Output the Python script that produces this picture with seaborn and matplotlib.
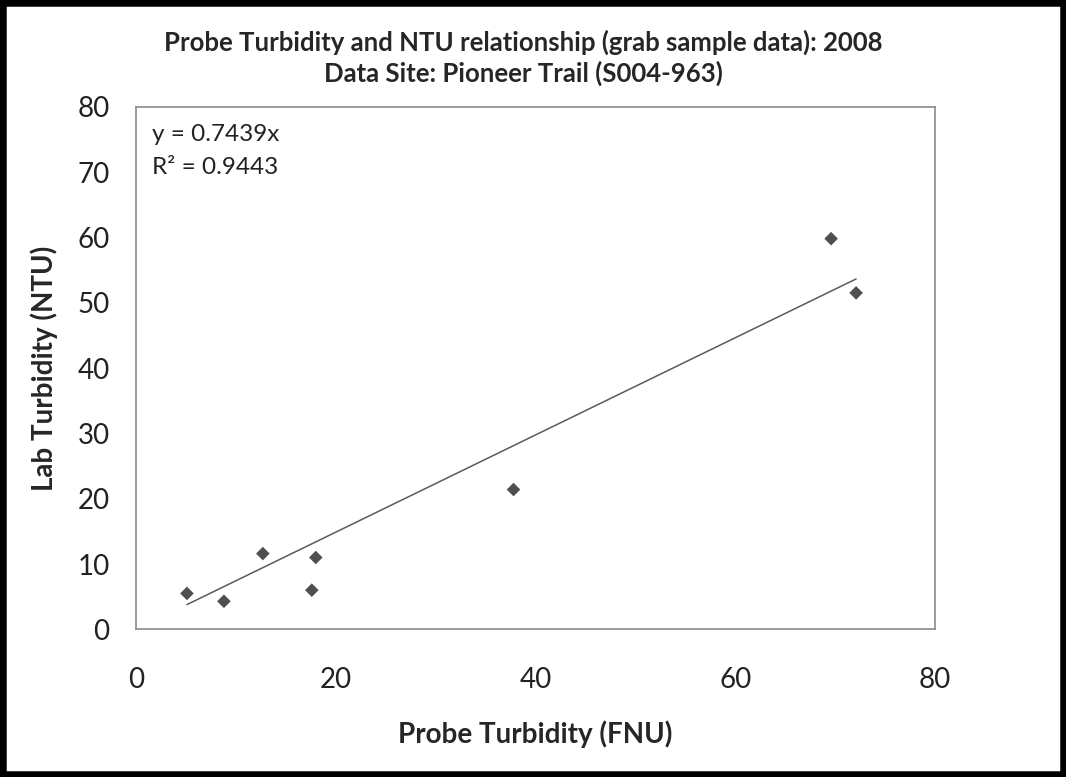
import numpy as np
import pandas as pd
import matplotlib
matplotlib.use("Agg")
import matplotlib.pyplot as plt
import matplotlib.patches as patches
import seaborn as sns

# ---------- DATA ----------
probe_fnu = [5.1, 8.8, 12.7, 17.6, 18.0, 37.8, 69.6, 72.1]
lab_ntu = [5.5, 4.3, 11.6, 6.0, 11.0, 21.4, 59.8, 51.5]
slope = 0.7439
r_squared = 0.9443
x_ticks = [0, 20, 40, 60, 80]
y_ticks = [0, 10, 20, 30, 40, 50, 60, 70, 80]

title_lines = ["Probe Turbidity and NTU relationship (grab sample data): 2008",
               "Data Site: Pioneer Trail (S004-963)"]

df = pd.DataFrame({"Probe": probe_fnu, "Lab": lab_ntu})

# ---------- STYLE ----------
sns.set_style("white")
plt.rcParams["font.family"] = ["Lato", "DejaVu Sans"]

fig = plt.figure(figsize=(10.66, 7.77), dpi=100)
ax = fig.add_axes([0.1276, 0.19, 0.7495, 0.6727])

# ---------- POINTS + TRENDLINE ----------
sns.scatterplot(data=df, x="Probe", y="Lab", marker="D", s=48,
                color="#4f4f4f", edgecolor="none", ax=ax, zorder=3)

xs = np.array([df["Probe"].min(), df["Probe"].max()])
ax.plot(xs, slope * xs, color="#5a5a5a", lw=1.1, zorder=2)

# ---------- AXES ----------
ax.set_xlim(0, 80)
ax.set_ylim(0, 80)
ax.set_xticks(x_ticks)
ax.set_yticks(y_ticks)
for sp in ax.spines.values():
    sp.set_color("#8a8a8a")
    sp.set_linewidth(1.2)
ax.tick_params(axis="both", direction="out", length=7, width=1.2,
               color="#8a8a8a", labelsize=20, labelcolor="#222222")
ax.tick_params(axis="x", pad=20)
ax.tick_params(axis="y", pad=12)

ax.set_xlabel("Probe Turbidity (FNU)", fontsize=20, fontweight="bold", labelpad=20)
ax.set_ylabel("Lab Turbidity (NTU)", fontsize=20, fontweight="bold", labelpad=14)

ax.text(0.02, 0.946, f"y = {slope}x", transform=ax.transAxes,
        fontsize=17.5, va="center", ha="left", color="#222222")
ax.text(0.02, 0.883, f"R² = {r_squared}", transform=ax.transAxes,
        fontsize=17.5, va="center", ha="left", color="#222222")

fig.text(0.491, 0.946, title_lines[0], ha="center", va="center",
         fontsize=18.5, fontweight="bold")
fig.text(0.491, 0.906, title_lines[1], ha="center", va="center",
         fontsize=18.5, fontweight="bold")

# ---------- BORDER ----------
fig.patches.append(patches.Rectangle((0, 0), 1, 1, transform=fig.transFigure,
                                     fill=False, edgecolor="black", lw=9))

fig.savefig("out.png", dpi=100)
